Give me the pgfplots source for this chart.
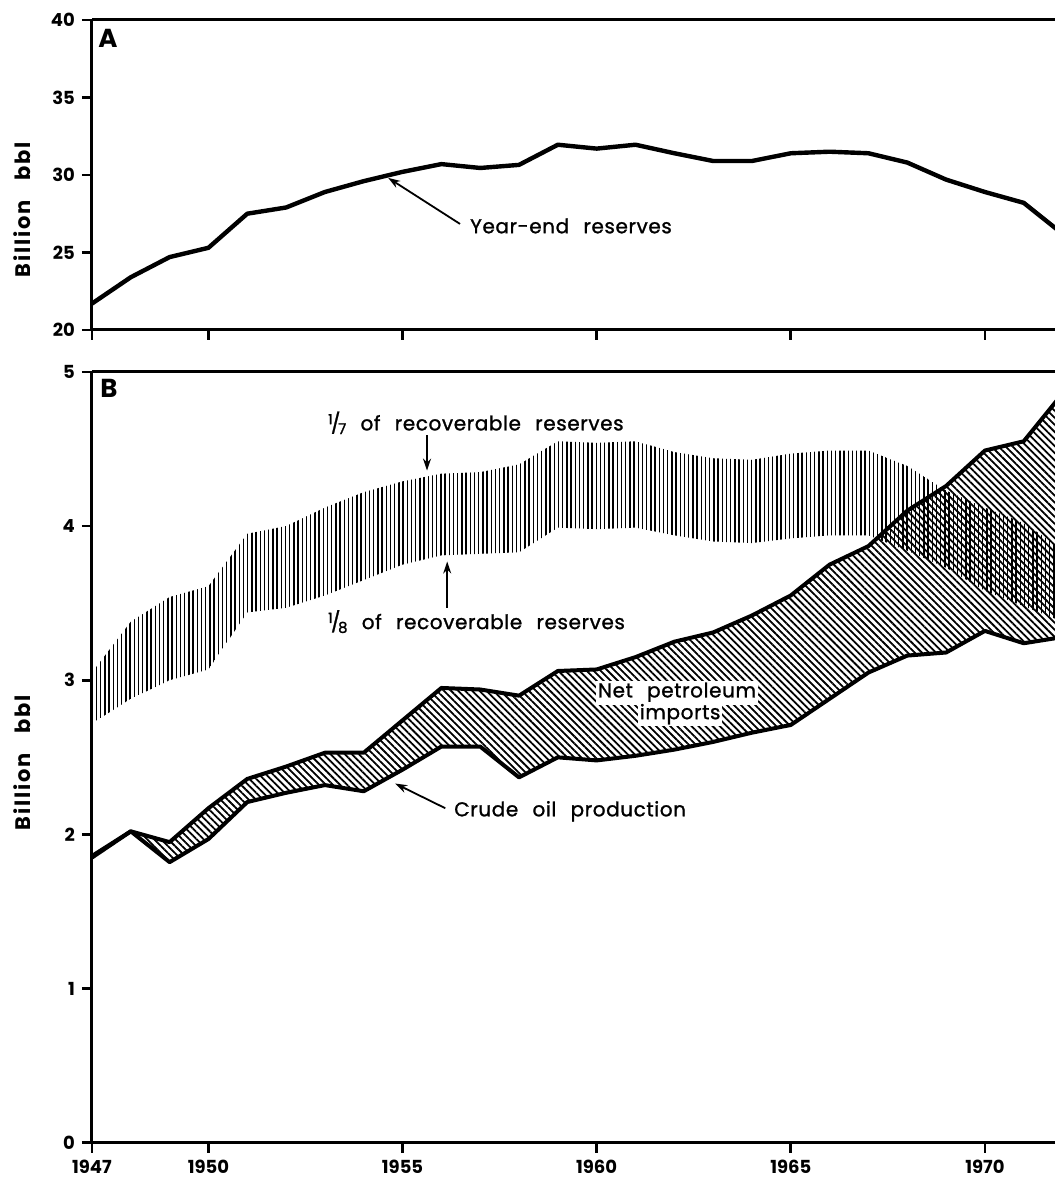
\documentclass[border=0pt]{standalone}
\usepackage{fontspec}
\setmainfont{Poppins}
\newfontfamily\lbl[LetterSpace=3,WordSpace=2.4,FakeBold=1.2]{Poppins}
\newfontfamily\ylbl[LetterSpace=9,WordSpace=3]{Poppins}
\usepackage{pgfplots}
\pgfplotsset{compat=1.18}
\usepackage{pgfplotstable}
\usetikzlibrary{patterns.meta,arrows.meta}

% year-end reserves, billion bbl
\pgfplotstableread{
year res
1947 21.7
1948 23.4
1949 24.7
1950 25.3
1951 27.5
1952 27.9
1953 28.9
1954 29.6
1955 30.2
1956 30.7
1957 30.45
1958 30.65
1959 31.95
1960 31.7
1961 31.95
1962 31.4
1963 30.9
1964 30.9
1965 31.4
1966 31.5
1967 31.4
1968 30.8
1969 29.7
1970 28.9
1971 28.2
1972 26.2
}\reserves

% 1/7 and 1/8 of recoverable reserves
\pgfplotstableread{
year hi lo
1947 3.05 2.72
1948 3.38 2.88
1949 3.54 3.00
1950 3.61 3.07
1951 3.95 3.44
1952 4.00 3.47
1953 4.12 3.55
1954 4.22 3.65
1955 4.29 3.75
1956 4.34 3.81
1957 4.35 3.82
1958 4.40 3.83
1959 4.55 3.99
1960 4.54 3.98
1961 4.55 3.99
1962 4.48 3.94
1963 4.44 3.90
1964 4.43 3.89
1965 4.47 3.92
1966 4.49 3.94
1967 4.49 3.94
1968 4.39 3.84
1969 4.23 3.73
1970 4.12 3.58
1971 4.02 3.48
1972 3.85 3.38
}\band

% crude oil production and production + net imports
\pgfplotstableread{
year prod total
1947 1.85 1.86
1948 2.02 2.02
1949 1.82 1.95
1950 1.97 2.17
1951 2.21 2.36
1952 2.27 2.44
1953 2.32 2.53
1954 2.28 2.53
1955 2.42 2.74
1956 2.57 2.95
1957 2.57 2.94
1958 2.37 2.90
1959 2.50 3.06
1960 2.48 3.07
1961 2.51 3.15
1962 2.55 3.25
1963 2.60 3.31
1964 2.66 3.42
1965 2.71 3.55
1966 2.88 3.75
1967 3.05 3.87
1968 3.16 4.10
1969 3.18 4.26
1970 3.32 4.49
1971 3.24 4.55
1972 3.28 4.86
}\oil

\newcommand{\frc}[1]{{\fontsize{7}{7}\selectfont\raisebox{.8ex}{1}}\kern-.08em/\kern-.12em{\fontsize{7.5}{7}\selectfont\raisebox{-.45ex}{#1}}}

\tikzset{
  arr/.style={line width=0.9pt, -{Stealth[length=6pt,width=4pt]}},
  txt/.style={font=\lbl\fontsize{10}{11}\selectfont},
  ylab/.style={rotate=90, font=\ylbl\bfseries\fontsize{10.5}{12}\selectfont},
}

\begin{document}
\begin{tikzpicture}
\pgfplotsset{panel/.style={
    scale only axis, width=481.5pt,
    xmin=1947, xmax=1971.8,
    axis y line*=left, xtick pos=lower, ytick pos=left,
    tick align=outside, major tick length=5pt,
    axis line style={line width=1.5pt},
    tick style={line width=1.4pt, black},
    xtick={1947,1950,1955,1960,1965,1970},
    tick label style={font=\bfseries\fontsize{9}{10}\selectfont},
    /pgf/number format/assume math mode=true,
    /pgf/number format/1000 sep={},
  },
  lower/.style={panel, at={(0pt,0pt)}, anchor=south west, height=385.5pt,
    ymin=0, ymax=5, ytick={0,1,...,5}},
}

\begin{axis}[panel, at={(0pt,406.5pt)}, anchor=south west, height=155pt,
    ymin=20, ymax=40, ytick={20,25,...,40}, xticklabels={}]
\addplot[line width=2.2pt, line join=round] table[x=year,y=res]{\reserves};
\node[font=\bfseries\fontsize{13}{13}\selectfont] at (axis cs:1947.41,38.84) {A};
\node[anchor=west, txt] at (axis cs:1956.56,26.71) {Year-end reserves};
\draw[arr] (axis cs:1956.48,26.84) -- (axis cs:1954.63,29.81);
\end{axis}

% band between 1/8 and 1/7 of reserves
\begin{axis}[lower, hide axis]
\addplot[draw=none, stack plots=y] table[x=year,y=lo]{\band};
\addplot[draw=none, stack plots=y, pattern={Lines[angle=90,distance=2.1pt,line width=0.7pt]}]
    table[x=year,y expr=\thisrow{hi}-\thisrow{lo}]{\band} \closedcycle;
\end{axis}

% net imports above production
\begin{axis}[lower, hide axis]
\addplot[draw=none, stack plots=y] table[x=year,y=prod]{\oil};
\addplot[draw=none, stack plots=y, pattern={Lines[angle=-45,distance=2.5pt,line width=0.9pt]}]
    table[x=year,y expr=\thisrow{total}-\thisrow{prod}]{\oil} \closedcycle;
\end{axis}

\begin{axis}[lower]
\addplot[line width=2pt, line join=round] table[x=year,y=total]{\oil};
\addplot[line width=2pt, line join=round] table[x=year,y=prod]{\oil};
\node[font=\bfseries\fontsize{13}{13}\selectfont] at (axis cs:1947.44,4.896) {B};
\node[anchor=west, txt] at (axis cs:1952.9,4.67) {\frc{7} of recoverable reserves};
\draw[arr] (axis cs:1955.63,4.59) -- (axis cs:1955.63,4.36);
\node[anchor=west, txt] at (axis cs:1952.9,3.38) {\frc{8} of recoverable reserves};
\draw[arr] (axis cs:1956.15,3.47) -- (axis cs:1956.15,3.77);
\node[fill=white, inner sep=1pt, txt] at (axis cs:1962.07,2.92) {Net petroleum};
\node[fill=white, inner sep=1pt, txt] at (axis cs:1962.15,2.78) {imports};
\node[anchor=west, txt] at (axis cs:1956.15,2.15) {Crude oil production};
\draw[arr] (axis cs:1956.1,2.17) -- (axis cs:1954.81,2.33);
\end{axis}

\node[ylab] at (-35pt,466.5pt) {Billion bbl};
\node[ylab] at (-35pt,190pt) {Billion bbl};
\path (-46pt,-18.5pt) rectangle (481.5pt,571.5pt);
\end{tikzpicture}
\end{document}
